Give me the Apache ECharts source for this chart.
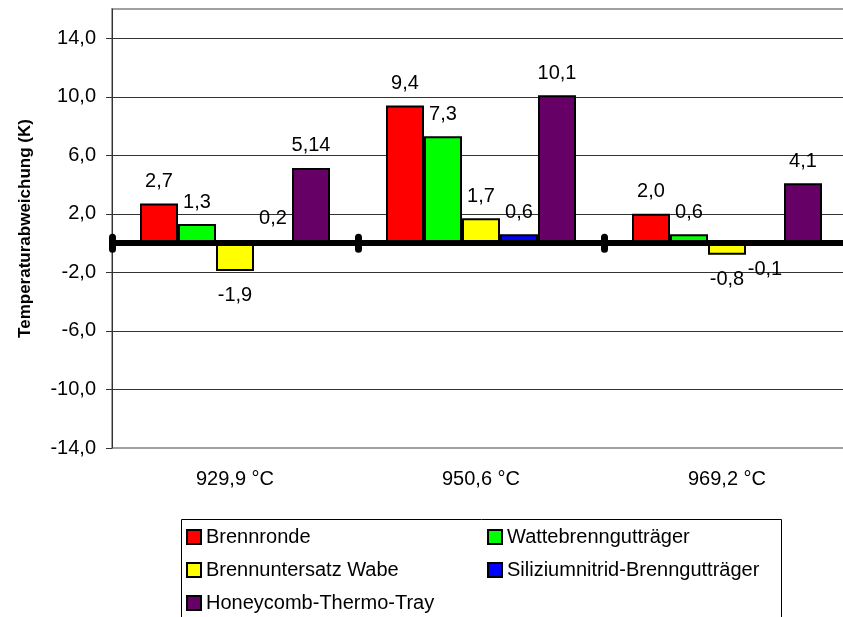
<!DOCTYPE html>
<html>
<head>
<meta charset="utf-8">
<script src="https://cdn.jsdelivr.net/npm/echarts@6/dist/echarts.min.js"></script>
<style>
html,body{margin:0;padding:0;background:#fff;overflow:hidden;}
#chart{width:860px;height:617px;}
</style>
</head>
<body>
<div id="chart"></div>
<script>
const categories = ['929,9 °C', '950,6 °C', '969,2 °C'];
const seriesNames = ['Brennronde', 'Wattebrenngutträger', 'Brennuntersatz Wabe', 'Siliziumnitrid-Brenngutträger', 'Honeycomb-Thermo-Tray'];
const brennronde = [2.7, 9.4, 2.0];
const watte = [1.3, 7.3, 0.6];
const wabe = [-1.9, 1.7, -0.8];
const silizium = [0.2, 0.6, -0.1];
const honeycomb = [5.14, 10.1, 4.1];
const labelTexts = [
  ['2,7', '9,4', '2,0'],
  ['1,3', '7,3', '0,6'],
  ['-1,9', '1,7', '-0,8'],
  ['0,2', '0,6', '-0,1'],
  ['5,14', '10,1', '4,1']
];
const colors = ['#FF0000', '#00FF00', '#FFFF00', '#0000FF', '#660066'];
const yTicks = { min: -14, max: 16, interval: 4 };

const FONT = '"Liberation Sans", Arial, sans-serif';
const allValues = [brennronde, watte, wabe, silizium, honeycomb];

function fmt(v) { return v.toFixed(1).replace('.', ','); }

const series = allValues.map((vals, si) => ({
  name: seriesNames[si],
  type: 'bar',
  xAxisIndex: 0,
  yAxisIndex: 0,
  barWidth: 38,
  barGap: '0%',
  itemStyle: { color: colors[si], borderColor: '#000', borderWidth: 2 },
  data: vals.map((v, i) => ({
    value: v,
    label: {
      show: true,
      position: v < 0 ? 'bottom' : 'top',
      distance: v < 0 ? 15 : 12,
      formatter: labelTexts[si][i],
      fontSize: 20,
      fontFamily: FONT,
      color: '#000'
    }
  }))
}));

const chart = echarts.init(document.getElementById('chart'), null, { renderer: 'canvas' });
chart.setOption({
  backgroundColor: '#fff',
  animation: false,
  color: colors,
  grid: {
    left: 112, top: 9, width: 738, height: 439,
    outerBoundsMode: 'none',
    show: true, borderColor: '#a0a0a0', borderWidth: 2, backgroundColor: 'transparent'
  },
  legend: [
    {
      orient: 'vertical', left: 186, top: 527, padding: 0,
      itemWidth: 14, itemHeight: 14, itemGap: 13, icon: 'rect',
      data: [seriesNames[0], seriesNames[2], seriesNames[4]],
      textStyle: { fontSize: 20, fontFamily: FONT, color: '#000', lineHeight: 20 }
    },
    {
      orient: 'vertical', left: 487, top: 527, padding: 0,
      itemWidth: 14, itemHeight: 14, itemGap: 13, icon: 'rect',
      data: [seriesNames[1], seriesNames[3]],
      textStyle: { fontSize: 20, fontFamily: FONT, color: '#000', lineHeight: 20 }
    }
  ],
  graphic: [{
    type: 'rect',
    shape: { x: 181.5, y: 519.5, width: 600, height: 130 },
    style: { fill: 'none', stroke: '#000', lineWidth: 1 },
    silent: true
  }],
  xAxis: [
    {
      type: 'category', data: categories, position: 'bottom',
      axisLine: { show: false, onZero: false },
      axisTick: { show: false },
      axisLabel: { fontSize: 20, fontFamily: FONT, color: '#000', margin: 21 },
      splitLine: { show: false }
    },
    {
      type: 'category', data: categories, position: 'bottom', z: 5,
      axisLine: { show: true, onZero: true, onZeroAxisIndex: 0, lineStyle: { color: '#000', width: 6 } },
      axisTick: { show: true, length: 6, lineStyle: { color: '#000', width: 7, cap: 'round' } },
      axisLabel: { show: false },
      splitLine: { show: false }
    },
    {
      type: 'category', data: categories, position: 'top', z: 5,
      axisLine: { show: false, onZero: true, onZeroAxisIndex: 0 },
      axisTick: { show: true, length: 6, lineStyle: { color: '#000', width: 7, cap: 'round' } },
      axisLabel: { show: false },
      splitLine: { show: false }
    }
  ],
  yAxis: {
    type: 'value', min: yTicks.min, max: yTicks.max, interval: yTicks.interval,
    name: 'Temperaturabweichung (K)', nameLocation: 'middle', nameGap: 78,
    nameTextStyle: { fontSize: 17, fontWeight: 'bold', fontFamily: FONT, color: '#000' },
    axisLine: { show: true, lineStyle: { color: '#333', width: 1 } },
    axisTick: { show: true, length: 6, lineStyle: { color: '#333' } },
    axisLabel: {
      fontSize: 20, fontFamily: FONT, color: '#000', margin: 16,
      showMaxLabel: false,
      formatter: v => (v > 14.5 ? '' : fmt(v))
    },
    splitLine: { show: true, showMinLine: false, showMaxLine: false, lineStyle: { color: '#333', width: 1 } }
  },
  series: series
});
</script>
</body>
</html>
